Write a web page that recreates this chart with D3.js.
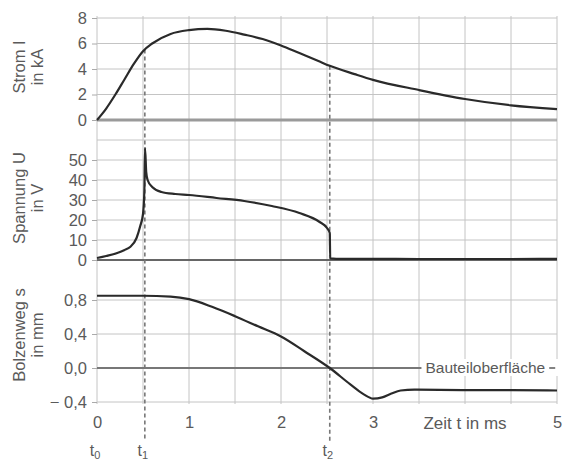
<!DOCTYPE html>
<html><head><meta charset="utf-8">
<script src="https://cdn.jsdelivr.net/npm/d3@7"></script>
<style>
html,body{margin:0;padding:0;background:#fff;}
svg{display:block;font-family:"Liberation Sans",Arial,sans-serif;}
</style></head>
<body>
<svg id="c" width="569" height="466"></svg>
<script>
// ---- data ----
const currentT = [0,0.1,0.2,0.3,0.4,0.5,0.6,0.8,1.0,1.2,1.4,1.6,1.8,2.0,2.2,2.4,2.53,2.8,3.0,3.5,4.0,4.5,5.0];
const currentI = [0,0.9,2.0,3.2,4.4,5.4,6.0,6.75,7.05,7.15,7.0,6.7,6.35,5.85,5.25,4.65,4.25,3.6,3.15,2.35,1.65,1.15,0.85];

const voltageT = [0,0.1,0.22,0.3,0.36,0.43,0.47,0.5,0.515,0.522,0.535,0.55,0.6,0.7,0.85,1.0,1.3,1.6,1.9,2.2,2.42,2.5,2.53,2.535,2.6,3.0,3.5,4.0,4.5,5.0];
const voltageU = [1,2,3.5,5,6.5,11,17,23,35,56,44,40,36.5,34,33,32.5,31,29.5,27,23.5,19,16,13.5,0.8,0.6,0.6,0.5,0.5,0.5,0.6];

const travelT = [0,0.5,0.8,1.0,1.25,1.5,1.75,2.0,2.25,2.53,2.75,2.9,3.0,3.1,3.2,3.3,3.45,4.0,4.5,5.0];
const travelS = [0.85,0.85,0.84,0.81,0.72,0.61,0.49,0.37,0.2,0.0,-0.19,-0.31,-0.36,-0.345,-0.3,-0.265,-0.255,-0.26,-0.26,-0.265];

const currentTicks = [0,2,4,6,8];
const voltageTicks = [0,10,20,30,40,50];
const voltageGrid = [10,20,30,40,50,60];
const travelTicks = [0.8,0.4,0.0,-0.4];
const timeTicks = [0,1,2,3,5];
const timeGrid = [0,0.5,1,1.5,2,2.5,3,3.5,4,4.5,5];
const markers = [{t:0,sub:"0"},{t:0.52,sub:"1"},{t:2.53,sub:"2"}];

// ---- scales ----
const svg = d3.select("#c");
const x = d3.scaleLinear().domain([0,5]).range([97,557]);
const yI = d3.scaleLinear().domain([0,8]).range([120,18]);
const yU = d3.scaleLinear().domain([0,60]).range([260,140]);
const yS = d3.scaleLinear().domain([-0.4,0.8]).range([402,300]);
const txt = "#5a5a5a";
const grid = "#c4c4c4";
const FS = "16.5px";

// vertical grid
svg.append("g").selectAll("line").data(timeGrid).join("line")
  .attr("x1",d=>x(d)).attr("x2",d=>x(d)).attr("y1",yI(8)-2).attr("y2",yS(-0.4)+2)
  .attr("stroke",grid).attr("stroke-width",1);

// horizontal grids
function hgrid(vals, y){
  svg.append("g").selectAll("line").data(vals).join("line")
    .attr("x1",x(0)).attr("x2",x(5)).attr("y1",d=>y(d)).attr("y2",d=>y(d))
    .attr("stroke",grid).attr("stroke-width",1);
}
hgrid([2,4,6,8], yI);
hgrid(voltageGrid, yU);
hgrid([0.8,0.4,-0.4], yS);

// zero lines
svg.append("line").attr("x1",x(0)).attr("x2",x(5)).attr("y1",yI(0)).attr("y2",yI(0))
  .attr("stroke","#9a9a9a").attr("stroke-width",3);
svg.append("line").attr("x1",x(0)).attr("x2",x(5)).attr("y1",yU(0)).attr("y2",yU(0))
  .attr("stroke","#666").attr("stroke-width",2);
svg.append("line").attr("x1",x(0)).attr("x2",x(5)).attr("y1",yS(0)).attr("y2",yS(0))
  .attr("stroke","#777").attr("stroke-width",2);

// y axes
function yaxis(scale, ticks, fmt){
  const g = svg.append("g").attr("transform",`translate(${x(0)},0)`)
    .call(d3.axisLeft(scale).tickValues(ticks).tickSize(5).tickPadding(5).tickFormat(fmt));
  g.select(".domain").remove();
  g.selectAll(".tick line").attr("stroke","#aaa");
  g.selectAll(".tick text").attr("fill",txt).style("font-size",FS)
    .style("font-family","'Liberation Sans',Arial,sans-serif");
  return g;
}
yaxis(yI, currentTicks, d=>d);
yaxis(yU, voltageTicks, d=>d);
yaxis(yS, travelTicks, d=> d<0 ? "\u2212 " + d3.format(".1f")(-d).replace(".",",") : d3.format(".1f")(d).replace(".",","));

// x axis labels
const xg = svg.append("g").attr("transform",`translate(0,${yS(-0.4)})`)
  .call(d3.axisBottom(x).tickValues(timeTicks).tickSize(0).tickPadding(14).tickFormat(d=>d));
xg.select(".domain").remove();
xg.selectAll(".tick text").attr("fill",txt).style("font-size",FS)
  .style("font-family","'Liberation Sans',Arial,sans-serif");
svg.append("text").attr("x",x(4)).attr("y",429).attr("text-anchor","middle")
  .attr("fill",txt).style("font-size","17px").text("Zeit t in ms");

// dashed marker lines
const iAt = t => d3.scaleLinear().domain(currentT).range(currentI)(t);
svg.append("g").selectAll("line").data(markers.slice(1)).join("line")
  .attr("x1",d=>x(d.t)).attr("x2",d=>x(d.t)).attr("y1",d=>yI(iAt(d.t))).attr("y2",(d,i)=>i?442:440)
  .attr("stroke","#777").attr("stroke-width",1.6).attr("stroke-dasharray","4,3");

// marker labels
const ml = svg.append("g").selectAll("text").data(markers).join("text")
  .attr("x",d=>x(d.t)-2).attr("y",456).attr("text-anchor","middle")
  .attr("fill",txt).style("font-size","16px");
ml.append("tspan").text("t");
ml.append("tspan").attr("dy",3).style("font-size","11px").text(d=>d.sub);

// curves
const lineStyle = sel => sel.attr("fill","none").attr("stroke","#2a2a2a").attr("stroke-width",2.2)
  .attr("stroke-linejoin","round");
svg.append("path").datum(d3.zip(currentT,currentI))
  .attr("d", d3.line().x(d=>x(d[0])).y(d=>yI(d[1])).curve(d3.curveMonotoneX)).call(lineStyle);
svg.append("path").datum(d3.zip(voltageT,voltageU))
  .attr("d", d3.line().x(d=>x(d[0])).y(d=>yU(d[1])).curve(d3.curveMonotoneX)).call(lineStyle);
svg.append("path").datum(d3.zip(travelT,travelS))
  .attr("d", d3.line().x(d=>x(d[0])).y(d=>yS(d[1])).curve(d3.curveMonotoneX)).call(lineStyle);

// surface label
const bgRect = svg.append("rect").attr("fill","#fff");
const lbl = svg.append("text").attr("x",x(3.57)).attr("y",yS(0)+5).attr("text-anchor","start")
  .attr("fill",txt).style("font-size","15.5px").text("Bauteiloberfläche");
const bb = lbl.node().getBBox();
bgRect.attr("x",bb.x-4).attr("y",bb.y).attr("width",x(5)-bb.x+6).attr("height",bb.height);
svg.append("line").attr("x1",bb.x+bb.width+4).attr("x2",bb.x+bb.width+10)
  .attr("y1",yS(0)).attr("y2",yS(0)).attr("stroke",txt).attr("stroke-width",1.5);

// y titles
function ytitle(cy, l1, l2){
  const g = svg.append("g").attr("transform",`translate(0,${cy}) rotate(-90)`);
  g.append("text").attr("x",0).attr("y",25).attr("text-anchor","middle").attr("fill",txt)
    .style("font-size","16.5px").text(l1);
  g.append("text").attr("x",0).attr("y",43).attr("text-anchor","middle").attr("fill",txt)
    .style("font-size","16.5px").text(l2);
}
ytitle(67, "Strom I", "in kA");
ytitle(198, "Spannung U", "in V");
ytitle(335, "Bolzenweg s", "in mm");
</script>
</body></html>
